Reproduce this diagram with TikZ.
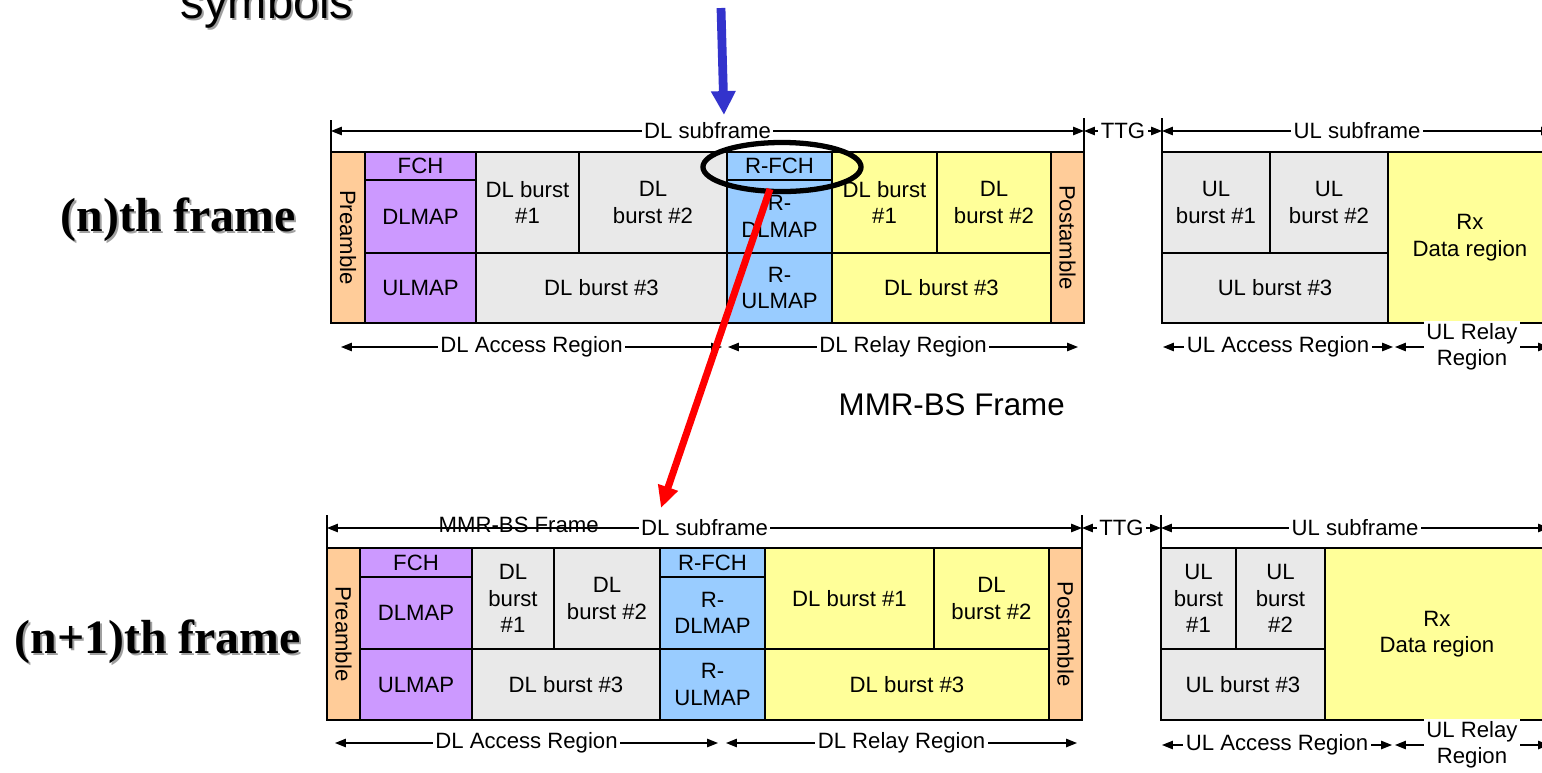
\documentclass[tikz,border=0pt]{standalone}
\usepackage{fontspec}
\usepackage{graphicx}
\setmainfont{Liberation Sans}
\newfontfamily\titleserif{Liberation Serif}
\usetikzlibrary{arrows.meta,shapes.geometric}

\definecolor{preC}{HTML}{FFCC99}
\definecolor{purC}{HTML}{CC99FF}
\definecolor{gryC}{HTML}{E9E9E9}
\definecolor{bluC}{HTML}{99CCFF}
\definecolor{yelC}{HTML}{FFFF99}
\definecolor{arrowblue}{HTML}{3333CC}
\definecolor{shadowgray}{HTML}{A0A0A0}

\newcommand\cellfont{\fontsize{6.3}{7.5}\selectfont}
\newcommand\framefont{\titleserif\bfseries\fontsize{13.6}{16}\selectfont}

\tikzset{
  cellbox/.style={rectangle, draw=black, line width=0.6pt, inner sep=0pt,
    outer sep=0pt, align=center, font=\cellfont},
  dim/.style={line width=0.35pt,
    {Triangle[length=3.1pt,width=2.4pt]}-{Triangle[length=3.1pt,width=2.4pt]}},
  dimlbl/.style={fill=white, inner sep=0.7pt, font=\cellfont, align=center},
  tickline/.style={line width=0.35pt},
  framelbl/.style={anchor=base west, font=\framefont, inner sep=0pt},
}

% one block of the frame: name, fill, x1, y1, x2, y2, text
\newcommand{\blk}[7]{%
  \node[cellbox, fill=#2, minimum width={(#5-#3)*0.01cm},
        minimum height={(#6-#4)*0.01cm}]
        (#1) at ({(#3+#5)/2},{(#4+#6)/2}) {#7};}

\begin{document}
\begin{tikzpicture}[x=0.01cm, y=-0.01cm]
\useasboundingbox (0,0) rectangle (1542,772);
\clip (0,0) rectangle (1542,772);

% ---------- headings ----------
\node[anchor=base west, inner sep=0pt, text=shadowgray,
      font=\fontsize{13.4}{16}\selectfont] (symsh) at (182,20) {symbols};
\node[anchor=base west, inner sep=0pt,
      font=\fontsize{13.4}{16}\selectfont] (sym) at (180,18) {symbols};

\node[framelbl, text=shadowgray] (f1sh) at (62,233) {(n)th frame};
\node[framelbl] (f1) at (60,231) {(n)th frame};
\node[framelbl, text=shadowgray] (f2sh) at (16,655) {(n+1)th frame};
\node[framelbl] (f2) at (14,653) {(n+1)th frame};

\node[anchor=base west, inner sep=0pt, font=\fontsize{8.9}{11}\selectfont]
  (mmr) at (838,415) {MMR-BS Frame};

% ---------- (n)th frame ----------
\blk{tPre}{preC}{331}{152}{365}{323}{\rotatebox{-90}{Preamble}}
\blk{tFCH}{purC}{365}{152}{476}{180}{FCH}
\blk{tDLMAP}{purC}{365}{180}{476}{253}{DLMAP}
\blk{tULMAP}{purC}{365}{253}{476}{323}{ULMAP}
\blk{tB1}{gryC}{476}{152}{579}{253}{DL burst\\\#1}
\blk{tB2}{gryC}{579}{152}{727}{253}{DL\\burst \#2}
\blk{tB3}{gryC}{476}{253}{727}{323}{DL burst \#3}
\blk{tRFCH}{bluC}{727}{152}{832}{180}{R-FCH}
\blk{tRDL}{bluC}{727}{180}{832}{253}{R-\\DLMAP}
\blk{tRUL}{bluC}{727}{253}{832}{323}{R-\\ULMAP}
\blk{tY1}{yelC}{832}{152}{937}{253}{DL burst\\\#1}
\blk{tY2}{yelC}{937}{152}{1051}{253}{DL\\burst \#2}
\blk{tY3}{yelC}{832}{253}{1051}{323}{DL burst \#3}
\blk{tPost}{preC}{1051}{152}{1084}{323}{\rotatebox{-90}{Postamble}}
\blk{tU1}{gryC}{1162}{152}{1270}{253}{UL\\burst \#1}
\blk{tU2}{gryC}{1270}{152}{1388}{253}{UL\\burst \#2}
\blk{tU3}{gryC}{1162}{253}{1388}{323}{UL burst \#3}
\blk{tRx}{yelC}{1388}{152}{1552}{323}{Rx\\Data region}

% spans above
\draw[tickline] (331,120) -- (331,152);
\draw[tickline] (1084,118) -- (1084,152);
\draw[tickline] (1162,118) -- (1162,152);
\coordinate (tdl1) at (331,131);  \coordinate (tdl2) at (1084,131);
\coordinate (tul1) at (1162,131); \coordinate (tul2) at (1552,131);
\draw[dim] (tdl1) -- node[dimlbl] (tdllbl) {DL subframe} (tdl2);
\draw[dim] (tdl2) -- node[dimlbl] (tttg) {TTG} (tul1);
\draw[dim] (tul1) -- node[dimlbl] (tullbl) {UL subframe} (tul2);

% regions below
\coordinate (ta1) at (341,347);  \coordinate (ta2) at (722,347);
\coordinate (tr1) at (728,347);  \coordinate (tr2) at (1078,347);
\coordinate (tua1) at (1163,347); \coordinate (tua2) at (1393,347);
\coordinate (tur1) at (1395,347); \coordinate (tur2) at (1549,347);
\draw[dim] (ta1) -- node[dimlbl] (talbl) {DL Access Region} (ta2);
\draw[dim] (tr1) -- node[dimlbl] (trlbl) {DL Relay Region} (tr2);
\draw[dim] (tua1) -- node[dimlbl] (tualbl) {UL Access Region} (tua2);
\draw[dim] (tur1) -- node[dimlbl] (turlbl) {UL Relay\\Region} (tur2);

% ---------- (n+1)th frame ----------
\blk{bPre}{preC}{327}{548}{360}{720}{\rotatebox{-90}{Preamble}}
\blk{bFCH}{purC}{360}{548}{472}{577}{FCH}
\blk{bDLMAP}{purC}{360}{577}{472}{649}{DLMAP}
\blk{bULMAP}{purC}{360}{649}{472}{720}{ULMAP}
\blk{bB1}{gryC}{472}{548}{554}{649}{DL\\burst\\\#1}
\blk{bB2}{gryC}{554}{548}{660}{649}{DL\\burst \#2}
\blk{bB3}{gryC}{472}{649}{660}{720}{DL burst \#3}
\blk{bRFCH}{bluC}{660}{548}{765}{577}{R-FCH}
\blk{bRDL}{bluC}{660}{577}{765}{649}{R-\\DLMAP}
\blk{bRUL}{bluC}{660}{649}{765}{720}{R-\\ULMAP}
\blk{bY1}{yelC}{765}{548}{934}{649}{DL burst \#1}
\blk{bY2}{yelC}{934}{548}{1049}{649}{DL\\burst \#2}
\blk{bY3}{yelC}{765}{649}{1049}{720}{DL burst \#3}
\blk{bPost}{preC}{1049}{548}{1082}{720}{\rotatebox{-90}{Postamble}}
\blk{bU1}{gryC}{1161}{548}{1236}{649}{UL\\burst\\\#1}
\blk{bU2}{gryC}{1236}{548}{1325}{649}{UL\\burst\\\#2}
\blk{bU3}{gryC}{1161}{649}{1325}{720}{UL burst \#3}
\blk{bRx}{yelC}{1325}{548}{1549}{720}{Rx\\Data region}

% spans above
\draw[tickline] (327,515) -- (327,548);
\draw[tickline] (1082,515) -- (1082,548);
\draw[tickline] (1161,515) -- (1161,548);
\coordinate (bdl1) at (327,528);  \coordinate (bdl2) at (1082,528);
\coordinate (bul1) at (1161,528); \coordinate (bul2) at (1549,528);
\draw[dim] (bdl1) -- node[dimlbl] (bdllbl) {DL subframe} (bdl2);
\draw[dim] (bdl2) -- node[dimlbl] (bttg) {TTG} (bul1);
\draw[dim] (bul1) -- node[dimlbl] (bullbl) {UL subframe} (bul2);
\node[anchor=base west, inner sep=0pt, font=\cellfont] (bmmr) at (438,532) {MMR-BS Frame};

% regions below
\coordinate (ba1) at (335,743);  \coordinate (ba2) at (718,743);
\coordinate (br1) at (726,743);  \coordinate (br2) at (1077,743);
\coordinate (bua1) at (1162,745); \coordinate (bua2) at (1392,745);
\coordinate (bur1) at (1395,745); \coordinate (bur2) at (1549,745);
\draw[dim] (ba1) -- node[dimlbl] (balbl) {DL Access Region} (ba2);
\draw[dim] (br1) -- node[dimlbl] (brlbl) {DL Relay Region} (br2);
\draw[dim] (bua1) -- node[dimlbl] (bualbl) {UL Access Region} (bua2);
\draw[dim] (bur1) -- node[dimlbl] (burlbl) {UL Relay\\Region} (bur2);

% ---------- highlight and pointers ----------
\node[draw=black, ellipse, line width=1.5pt, minimum width=1.58cm,
      minimum height=0.49cm, inner sep=0pt] (hl) at (782,167) {};

\coordinate (bluetail) at (721,8);
\coordinate (bluetip) at (724,115);
\draw[arrowblue, line width=2.5pt,
      -{Triangle[length=6.8pt,width=6.6pt]}] (bluetail) -- (bluetip);

\coordinate (redtail) at (770,189);
\coordinate (redtip) at (661,508);
\draw[red, line width=2pt,
      -{Triangle[length=6.2pt,width=5.6pt]}] (redtail) -- (redtip);
\end{tikzpicture}
\end{document}
